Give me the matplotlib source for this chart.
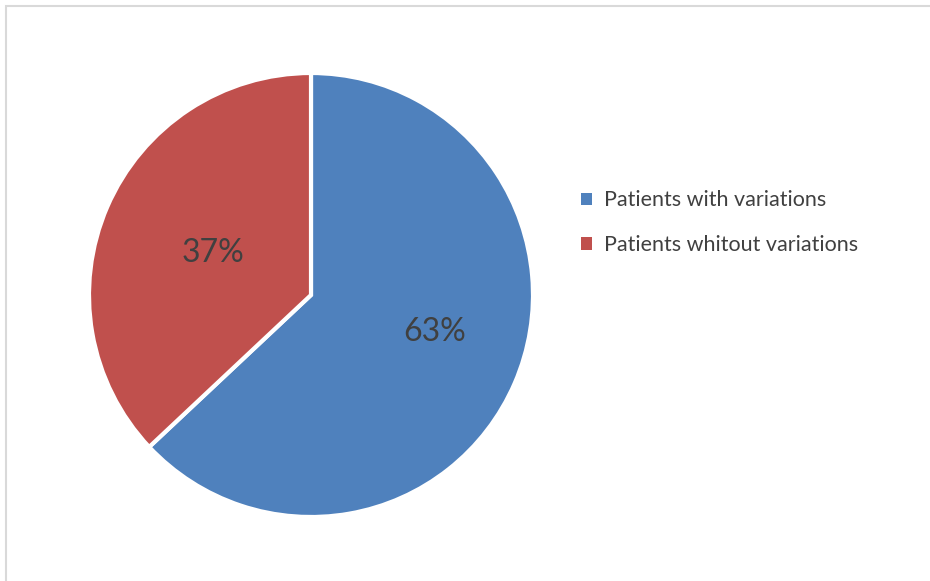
import numpy as np
import matplotlib.pyplot as plt
from matplotlib.patches import Rectangle

categories = ["Patients with variations", "Patients whitout variations"]
shares = [63, 37]
colors = ["#4F81BD", "#C0504D"]
label_dist = [0.58, 0.48]

plt.rcParams['font.family'] = ['Lato', 'DejaVu Sans']

W, H = 930, 581
fig = plt.figure(figsize=(W / 100, H / 100), dpi=100)

# light chart-area frame (only top and left edges fall inside the canvas)
fig.patches.append(Rectangle((6 / W, -0.2), 1.2, 1.2 - 5.5 / H, transform=fig.transFigure,
                             fill=False, edgecolor="#D9D9D9", linewidth=1.5))

cx, cy, r = 311, 295, 222
ax = fig.add_axes([(cx - r) / W, (H - cy - r) / H, 2 * r / W, 2 * r / H])
wedges, texts, autotexts = ax.pie(
    shares, colors=colors, startangle=90, counterclock=False,
    autopct=lambda p: f"{p:.0f}%", pctdistance=0.5,
    wedgeprops=dict(edgecolor="white", linewidth=3),
    textprops=dict(color="#404040", fontsize=23))
ax.set_aspect("equal")
ax.set_xlim(-1, 1)
ax.set_ylim(-1, 1)

for w, t, d in zip(wedges, autotexts, label_dist):
    ang = np.deg2rad((w.theta1 + w.theta2) / 2)
    if t.get_text() == "63%":
        ang += np.deg2rad(6.5)
    t.set_position((d * np.cos(ang), d * np.sin(ang)))

leg = fig.legend(wedges, categories, loc="upper left",
                 bbox_to_anchor=(562 / W, 1 - 171 / H), frameon=False,
                 fontsize=15.5, handlelength=0.5, handleheight=0.5,
                 handletextpad=0.55, labelspacing=1.15, labelcolor="#404040")
for h in leg.legend_handles:
    h.set_edgecolor("none")

fig.savefig("out.png", dpi=100, facecolor="white")
